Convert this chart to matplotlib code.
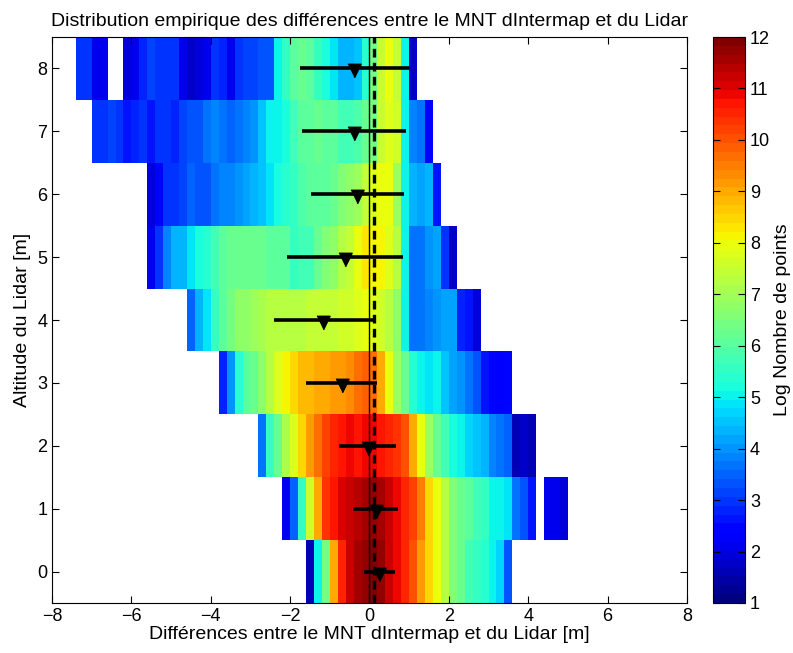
import numpy as np
import matplotlib
matplotlib.use('Agg')
import matplotlib.pyplot as plt

plt.rcParams['font.family'] = ['Liberation Sans', 'DejaVu Sans']

# histogramme 2D : une ligne par altitude, classes de 0.2 m
bin_width = 0.2
x_min, x_max = -7.4, 5.0
altitudes = [0, 1, 2, 3, 4, 5, 6, 7, 8]

# debut (bord gauche) de chaque ligne et log du nombre de points par classe
row_start = [-1.6, -2.2, -2.8, -3.8, -4.6, -5.6, -5.6, -7.0, -7.4]

log_alt0 = [1.6, 5.0, 6.4, 9.0, 10.6, 11.2, 11.5, 11.8, 12.0, 11.7, 11.2, 10.8, 10.6,
            10.0, 9.2, 8.5, 7.9, 7.2, 6.6, 6.3, 5.8, 5.6, 5.3, 5.0, 4.7, 3.4]
log_alt1 = [2.2, 3.5, 5.6, 7.6, 9.0, 10.3, 10.7, 11.0, 11.2, 11.4, 11.6, 11.7, 11.5,
            11.2, 10.9, 10.6, 10.2, 9.5, 8.5, 7.9, 7.2, 6.6, 6.3, 6.0, 5.7, 5.5,
            5.1, 5.0, 4.9, 3.7, 3.4, 2.6, np.nan, 2.1, 2.1, 2.0]
log_alt2 = [3.6, 5.5, 6.3, 7.1, 7.8, 8.4, 9.1, 9.7, 10.2, 10.5, 10.7, 10.8, 10.7,
            10.8, 10.8, 10.7, 10.6, 10.4, 10.0, 9.0, 8.0, 7.0, 6.3, 5.7, 5.2, 5.0,
            4.7, 4.5, 4.3, 3.9, 3.7, 3.5, 1.6, 1.7, 1.6]
log_alt3 = [2.8, 4.0, 5.3, 6.0, 6.3, 6.8, 7.2, 7.8, 8.1, 8.5, 8.8, 8.9, 9.0, 9.0,
            9.1, 9.2, 9.3, 9.6, 9.8, 9.6, 9.0, 7.9, 7.0, 6.3, 5.3, 5.0, 4.9, 5.0,
            4.6, 4.2, 4.0, 3.6, 3.4, 2.6, 2.4, 2.3, 2.4]
log_alt4 = [3.5, 4.3, 4.9, 5.6, 6.1, 6.4, 6.7, 6.8, 7.0, 7.1, 7.2, 7.2, 7.3, 7.3,
            7.3, 7.4, 7.4, 7.4, 7.5, 7.6, 7.7, 7.8, 8.0, 7.8, 7.6, 7.2, 6.8, 5.0,
            3.6, 3.7, 3.9, 4.0, 4.2, 4.2, 2.8, 2.7, 2.0]
log_alt5 = [2.2, 3.0, 3.8, 4.3, 4.4, 4.8, 5.2, 5.4, 5.7, 6.0, 6.2, 6.2, 6.3, 6.2,
            6.3, 6.1, 6.1, 6.0, 5.6, 5.7, 5.8, 6.3, 6.5, 6.8, 7.2, 7.4, 8.0, 8.3,
            8.1, 8.2, 7.8, 7.2, 5.0, 3.6, 3.7, 4.0, 4.1, 3.0, 1.8]
log_alt6 = [2.0, 2.4, 2.9, 2.9, 3.2, 3.5, 3.3, 3.3, 3.6, 3.8, 3.9, 4.0, 4.2, 4.3,
            4.6, 4.8, 5.2, 5.3, 5.6, 5.9, 6.0, 6.1, 6.0, 6.3, 6.5, 6.8, 7.0, 7.4,
            7.8, 8.0, 7.9, 7.0, 5.0, 4.3, 4.2, 4.4, 2.6]
log_alt7 = [3.0, 3.0, 3.1, 2.9, 2.6, 2.8, 2.9, 2.6, 2.9, 3.0, 2.8, 3.2, 3.3, 3.4,
            3.6, 3.8, 3.6, 3.5, 3.7, 3.8, 4.0, 4.5, 5.0, 5.0, 5.2, 5.8, 6.0, 6.1,
            6.2, 6.0, 6.0, 5.8, 5.7, 5.9, 6.2, 6.4, 7.4, 7.8, 7.6, 5.0, 3.8, 3.6, 2.4]
log_alt8 = [3.0, 3.0, 2.1, 2.1, np.nan, np.nan, 2.0, 2.2, 2.8, 3.1, 3.0, 2.9, 3.0,
            2.1, 1.8, 2.0, 2.1, 3.0, 2.8, 2.1, 3.0, 3.2, 3.1, 3.3, 3.4, 5.0, 5.6,
            6.1, 6.2, 6.0, 5.6, 5.2, 4.8, 4.4, 4.3, 4.6, 5.4, 6.4, 7.4, 7.9, 7.4,
            5.0, 1.8]

rows = [log_alt0, log_alt1, log_alt2, log_alt3, log_alt4,
        log_alt5, log_alt6, log_alt7, log_alt8]

# moyenne et ecart-type des differences par altitude
mean_diff = [0.25, 0.16, -0.05, -0.70, -1.16, -0.62, -0.31, -0.40, -0.38]
std_diff = [0.39, 0.57, 0.72, 0.89, 1.24, 1.47, 1.17, 1.31, 1.38]
global_mean = 0.11

n_bins = int(round((x_max - x_min) / bin_width))
x_edges = np.round(np.linspace(x_min, x_max, n_bins + 1), 2)
y_edges = np.arange(-0.5, 9.0, 1.0)

Z = np.full((len(altitudes), n_bins), np.nan)
for i, (start, vals) in enumerate(zip(row_start, rows)):
    i0 = int(round((start - x_min) / bin_width))
    Z[i, i0:i0 + len(vals)] = vals

fig = plt.figure(figsize=(7.93, 6.53), dpi=100)
ax = fig.add_axes([0.0656, 0.0766, 0.8007, 0.8667])
cax = fig.add_axes([0.8987, 0.0766, 0.0408, 0.8667])

cmap = plt.get_cmap('jet', 64).copy()
cmap.set_bad('white')
mesh = ax.pcolormesh(x_edges, y_edges, np.ma.masked_invalid(Z), cmap=cmap,
                     vmin=1, vmax=12, shading='flat')

# zero et moyenne globale
ax.axvline(0, color='black', lw=1.0)
ax.axvline(global_mean, color='black', lw=2.4, linestyle=(0, (2.6, 1.6)))

# moyenne +/- ecart-type
tri = [(-0.7, 0.45), (0.7, 0.45), (0.0, -1.0)]
for alt, m, s in zip(altitudes, mean_diff, std_diff):
    ax.plot([m - s, m + s], [alt, alt], color='black', lw=2.6, solid_capstyle='butt')
ax.plot(mean_diff, altitudes, linestyle='none', marker=tri, markersize=13.5,
        color='black')

ax.set_xlim(-8, 8)
ax.set_ylim(-0.5, 8.5)
ax.set_xticks(range(-8, 9, 2))
ax.set_yticks(altitudes)
ax.tick_params(direction='in', top=True, right=True, length=5, labelsize=13)
ax.set_title('Distribution empirique des différences entre le MNT dIntermap et du Lidar',
             fontsize=14, pad=8)
ax.set_xlabel('Différences entre le MNT dIntermap et du Lidar [m]', fontsize=14, labelpad=1)
ax.set_ylabel('Altitude du Lidar [m]', fontsize=14, labelpad=4)

cb = fig.colorbar(mesh, cax=cax, ticks=range(1, 13))
cb.ax.tick_params(direction='in', left=True, right=True, length=5, labelsize=13)
cb.set_label('Log Nombre de points', fontsize=14, labelpad=3)
cb.outline.set_linewidth(0.8)

fig.savefig('out.png', dpi=100)
